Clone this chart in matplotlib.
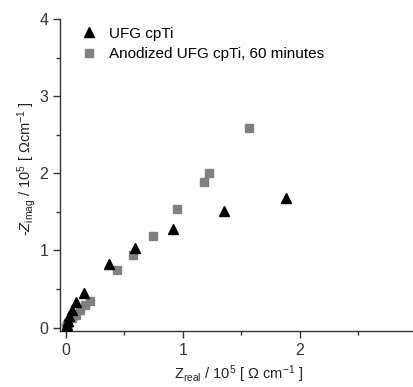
import matplotlib
matplotlib.use("Agg")
import matplotlib.pyplot as plt
from matplotlib.ticker import MultipleLocator

plt.rcParams['font.family'] = ['Liberation Sans', 'DejaVu Sans']
plt.rcParams['mathtext.fontset'] = 'custom'
plt.rcParams['mathtext.rm'] = 'Liberation Sans'
plt.rcParams['mathtext.it'] = 'Liberation Sans:italic'

# UFG cpTi (triangles)
ufg_x = [0.0, 0.005, 0.015, 0.03, 0.05, 0.085, 0.156, 0.37, 0.587, 0.917, 1.35, 1.88]
ufg_y = [0.0, 0.03, 0.08, 0.15, 0.23, 0.33, 0.45, 0.825, 1.036, 1.275, 1.51, 1.68]

# Anodized UFG cpTi, 60 minutes (squares)
ano_x = [0.0, 0.01, 0.02, 0.05, 0.085, 0.12, 0.16, 0.205, 0.44, 0.57, 0.74, 0.95, 1.18, 1.22, 1.56]
ano_y = [0.01, 0.03, 0.06, 0.12, 0.16, 0.23, 0.29, 0.345, 0.74, 0.94, 1.19, 1.54, 1.89, 2.0, 2.59]

fig = plt.figure(figsize=(4.14, 3.87), dpi=100)
ax = fig.add_axes([60/414, 56/387, 357/414, 312/387])

ax.plot(ufg_x, ufg_y, linestyle='none', marker='^', color='black', markersize=7.5,
        label='UFG cpTi', zorder=3)
ax.plot(ano_x, ano_y, linestyle='none', marker='s', color='#808080', markersize=6,
        label='Anodized UFG cpTi, 60 minutes', zorder=2)

ax.set_xlim(-0.051, 3.0)
ax.set_ylim(-0.045, 4.0)
ax.spines['top'].set_visible(False)
ax.spines['right'].set_visible(False)
for s in ('left', 'bottom'):
    ax.spines[s].set_color('#333333')
    ax.spines[s].set_linewidth(1.0)

ax.xaxis.set_major_locator(MultipleLocator(1))
ax.xaxis.set_minor_locator(MultipleLocator(0.5))
ax.yaxis.set_major_locator(MultipleLocator(1))
ax.yaxis.set_minor_locator(MultipleLocator(0.5))
ax.tick_params(which='major', direction='out', length=5, width=1, labelsize=11.5, colors='#333333')
ax.tick_params(which='minor', direction='out', length=3, width=1, colors='#333333')

ax.set_xlabel(r'Z$_{\mathrm{real}}$ / 10$^{5}$ [ $\Omega$ cm$^{-1}$ ]', fontsize=10.5, color='#222222')
ax.set_ylabel(r'-$\mathit{Z}_{\mathrm{imag}}$ / 10$^{5}$ [ $\Omega$cm$^{-1}$ ]', fontsize=10.5, color='#222222')
ax.xaxis.set_label_coords(0.5, -0.105)
ax.yaxis.set_label_coords(-22/357, 0.52)

leg = ax.legend(loc='upper left', bbox_to_anchor=(0.025, 1.01), frameon=False, fontsize=11,
                handletextpad=0.7, borderaxespad=0.3, labelspacing=0.45, handlelength=1.2)

fig.savefig('out.png', dpi=100)
